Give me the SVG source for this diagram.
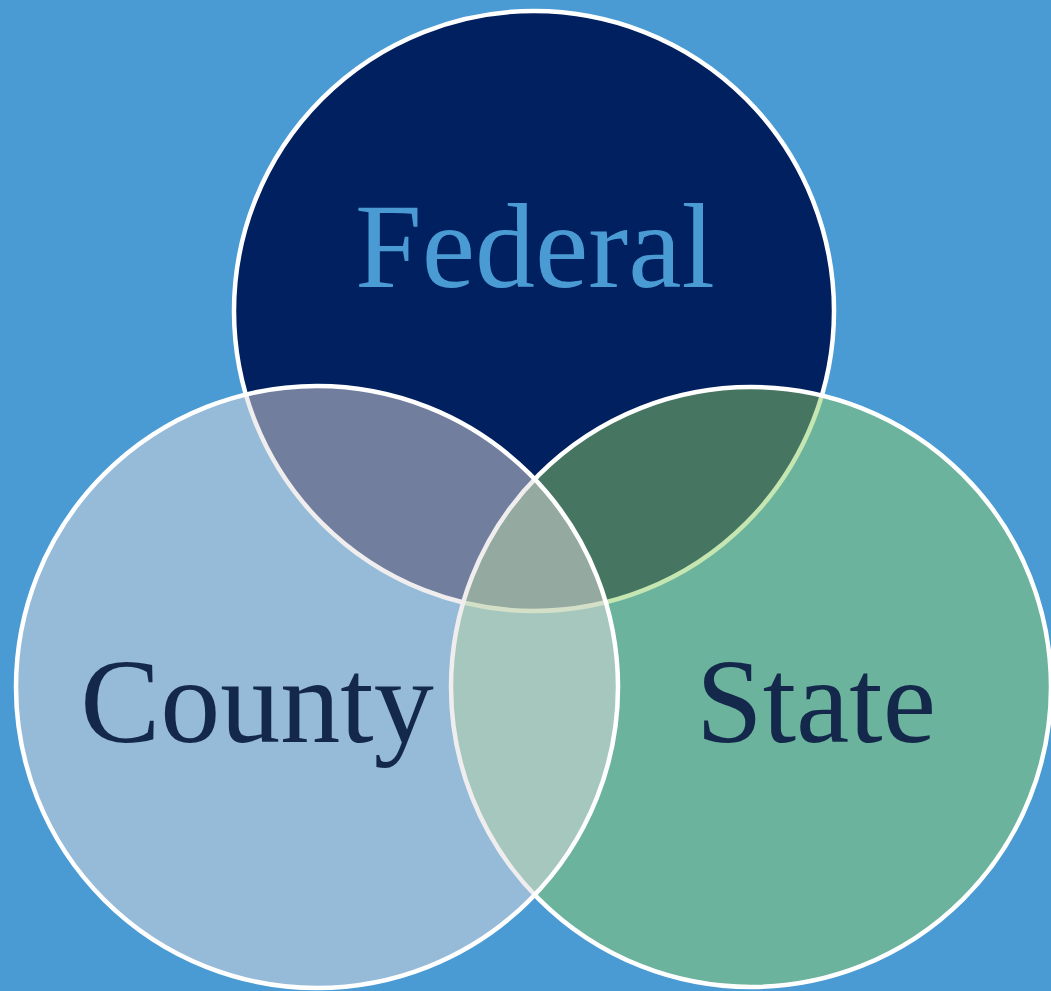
<svg xmlns="http://www.w3.org/2000/svg" width="1051" height="991" viewBox="0 0 1051 991">
  <style>
    .ring { stroke: #FFFFFF; stroke-width: 4.5; }
    .lbl { font-family: "Liberation Serif", "Times New Roman", serif; font-size: 120px; text-anchor: middle; }
  </style>
  <rect x="0" y="0" width="1051" height="991" fill="#4A9BD4"/>
  <g id="federal">
    <circle class="ring" cx="534" cy="311" r="300" fill="#00205F"/>
  </g>
  <g id="state">
    <circle class="ring" cx="751" cy="687" r="300" fill="#8CCB64" fill-opacity="0.5"/>
  </g>
  <g id="county">
    <circle class="ring" cx="317" cy="687" r="301" fill="#E2DBDE" fill-opacity="0.5"/>
  </g>
  <g id="labels">
    <text class="lbl" x="535" y="287" fill="#4A9BD4">Federal</text>
    <text class="lbl" x="257" y="742" fill="#14284B">County</text>
    <text class="lbl" x="816" y="742" fill="#14284B">State</text>
  </g>
</svg>
